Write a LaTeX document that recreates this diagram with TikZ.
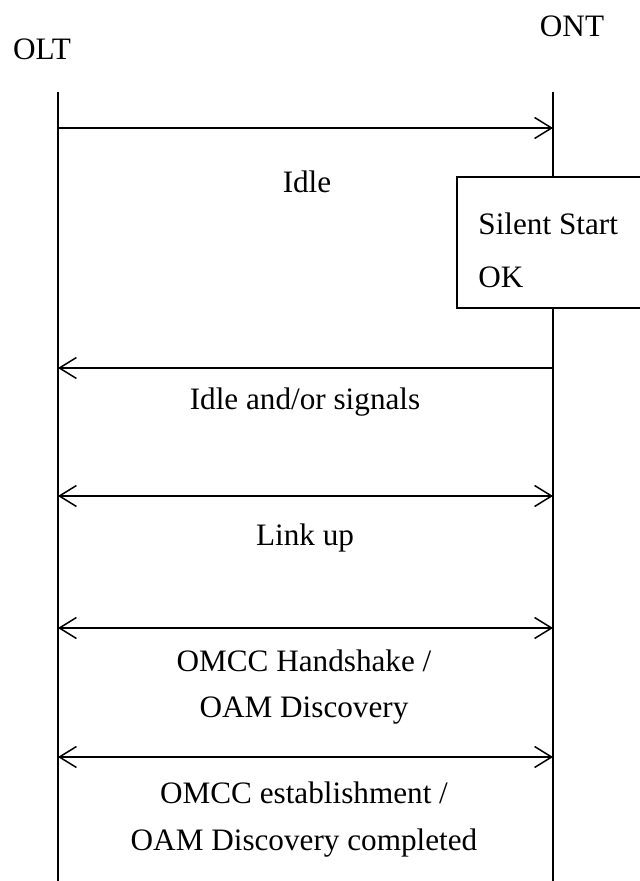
\documentclass[tikz,border=0pt]{standalone}
\usepackage{fontspec}
\setmainfont{Liberation Serif}
\usetikzlibrary{arrows.meta}
\begin{document}
\begin{tikzpicture}[x=0.5pt,y=-0.5pt,
  lbl/.style={font=\fontsize{15.6}{18}\selectfont, inner sep=0pt},
  life/.style={line width=0.75pt},
  msg/.style={line width=0.75pt},
  barb/.tip={Straight Barb[length=8.5pt,width=10.5pt]},
  statebox/.style={draw, line width=0.75pt, fill=white}]
\useasboundingbox (0,0) rectangle (640,881);
\clip (0,0) rectangle (640,881);
% actor titles
\node[lbl] (olt) at (42,49) {OLT};
\node[lbl] (ont) at (572,26) {ONT};
% lifelines
\coordinate (oltTop) at (58,92);
\coordinate (oltBot) at (58,881);
\coordinate (ontTop) at (553,92);
\coordinate (ontBot) at (553,881);
\draw[life] (oltTop) -- (oltBot);
\draw[life] (ontTop) -- (ontBot);
% state box on the ONT lifeline
\draw[statebox] (457,177) rectangle (660,308);
\node[lbl, anchor=west] (silent) at (478,224) {Silent Start};
\node[lbl, anchor=west] (ok) at (478,277) {OK};
% message points
\coordinate (a1) at (58,128);  \coordinate (b1) at (553,128);
\coordinate (a2) at (58,368);  \coordinate (b2) at (553,368);
\coordinate (a3) at (58,496);  \coordinate (b3) at (553,496);
\coordinate (a4) at (58,628);  \coordinate (b4) at (553,628);
\coordinate (a5) at (58,757);  \coordinate (b5) at (553,757);
% messages
\draw[msg, -barb] (a1) -- (b1);
\draw[msg, -barb] (b2) -- (a2);
\draw[msg, barb-barb] (a3) -- (b3);
\draw[msg, barb-barb] (a4) -- (b4);
\draw[msg, barb-barb] (a5) -- (b5);
% message labels
\node[lbl] (l1) at (307,182) {Idle};
\node[lbl] (l2) at (305,402) {Idle and/or signals};
\node[lbl] (l3) at (305,538) {Link up};
\node[lbl] (l4a) at (304,661) {OMCC Handshake /};
\node[lbl] (l4b) at (304,711) {OAM Discovery};
\node[lbl] (l5a) at (304,793) {OMCC establishment /};
\node[lbl] (l5b) at (304,843) {OAM Discovery completed};
\end{tikzpicture}
\end{document}
